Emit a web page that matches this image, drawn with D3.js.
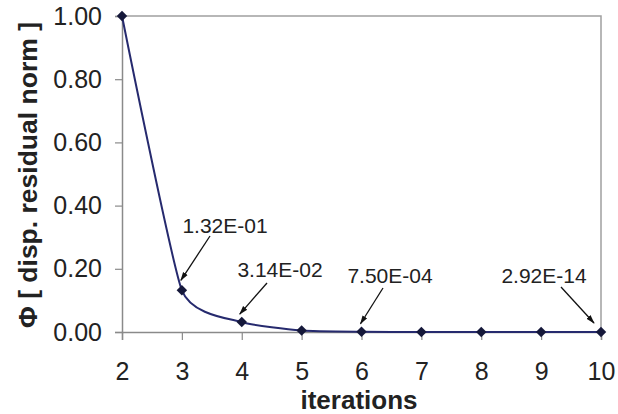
<!DOCTYPE html>
<html><head><meta charset="utf-8">
<script src="https://cdn.jsdelivr.net/npm/d3@7"></script>
<style>body{margin:0;background:#fff}svg{display:block}text{font-family:Arial,"Liberation Sans",sans-serif}</style>
</head><body><svg id="c" width="618" height="414"></svg>
<script>
const iterations = [2, 3, 4, 5, 6, 7, 8, 9, 10];
const phi = [1.0, 0.132, 0.0314, 0.0048, 0.00075, 0.00002, 1e-7, 1e-10, 2.92e-14];
const yTicks = [0, 0.2, 0.4, 0.6, 0.8, 1.0];
const annotIter = [3, 4, 6, 10];
const annotText = ["1.32E-01", "3.14E-02", "7.50E-04", "2.92E-14"];
const xTitle = "iterations";
const yTitle = "\u03A6 [ disp. residual norm ]";

const svg = d3.select("#c");
const m = {l: 122, r: 601, t: 16, b: 332};
const x = d3.scaleLinear().domain([2, 10]).range([m.l, m.r]);
const y = d3.scaleLinear().domain([0, 1]).range([m.b, m.t]);
const axisColor = "#8a8a8a";

// frame top/right
svg.append("path").attr("d", `M${m.l},${m.t}H${m.r}V${m.b}`).attr("fill","none").attr("stroke","#a0a0a0").attr("stroke-width",1.5);

const ya = svg.append("g").attr("transform",`translate(${m.l},0)`)
  .call(d3.axisLeft(y).tickValues(yTicks).tickFormat(d3.format(".2f")).tickSize(7).tickPadding(13));
const xa = svg.append("g").attr("transform",`translate(0,${m.b})`)
  .call(d3.axisBottom(x).tickValues(iterations).tickFormat(d3.format("d")).tickSize(8).tickPadding(22));
[ya, xa].forEach(g => {
  g.attr("font-size", null).attr("font-family", null);
  g.select(".domain").attr("stroke", axisColor).attr("stroke-width",1.5);
  g.selectAll(".tick line").attr("stroke", axisColor).attr("stroke-width",1.2);
  g.selectAll("text").attr("fill","#222").style("font-size","25px");
});
xa.selectAll("text").attr("dy", null).attr("y", 48);

const data = iterations.map((d,i)=>({x:d, y:phi[i]}));
const line = d3.line().x(d=>x(d.x)).y(d=>y(d.y)).curve(d3.curveCardinal.tension(0.5));
svg.append("path").datum(data).attr("d", line).attr("fill","none").attr("stroke","#262a6e").attr("stroke-width",2);

const sym = d3.symbol().type(d3.symbolDiamond2).size(70);
svg.selectAll(".pt").data(data).join("path").attr("class","pt")
  .attr("transform", d=>`translate(${x(d.x)},${y(d.y)})`).attr("d", sym).attr("fill","#15183a");

// annotations
const defs = svg.append("defs");
defs.append("marker").attr("id","ah").attr("viewBox","0 0 10 10").attr("refX",9).attr("refY",5)
  .attr("markerWidth",7).attr("markerHeight",7).attr("orient","auto")
  .append("path").attr("d","M0,2L10,5L0,8Z").attr("fill","#111");

const labPos = [[225, 233], [280, 277], [390, 283], [544, 283]];
const arrowStart = [[210, 236], [267, 283], [383, 288], [561, 287]];
const arrowOff = [[-1, -10], [-2, -8], [-1, -8], [-7, -9]];
annotIter.forEach((it, i) => {
  const v = phi[iterations.indexOf(it)];
  const ex = x(it) + arrowOff[i][0], ey = y(v) + arrowOff[i][1];
  svg.append("line").attr("x1", arrowStart[i][0]).attr("y1", arrowStart[i][1])
    .attr("x2", ex).attr("y2", ey).attr("stroke","#111").attr("stroke-width",1.3).attr("marker-end","url(#ah)");
  svg.append("text").attr("x", labPos[i][0]).attr("y", labPos[i][1]).attr("text-anchor","middle")
    .style("font-size","21px").attr("fill","#222").text(annotText[i]);
});

svg.append("text").attr("x", 359).attr("y", 409).attr("text-anchor","middle")
  .style("font-size","26px").style("font-weight","bold").attr("fill","#222").text(xTitle);
svg.append("text").attr("transform","translate(37,175) rotate(-90)").attr("text-anchor","middle")
  .style("font-size","26.5px").style("font-weight","bold").attr("fill","#222").text(yTitle);
</script></body></html>
